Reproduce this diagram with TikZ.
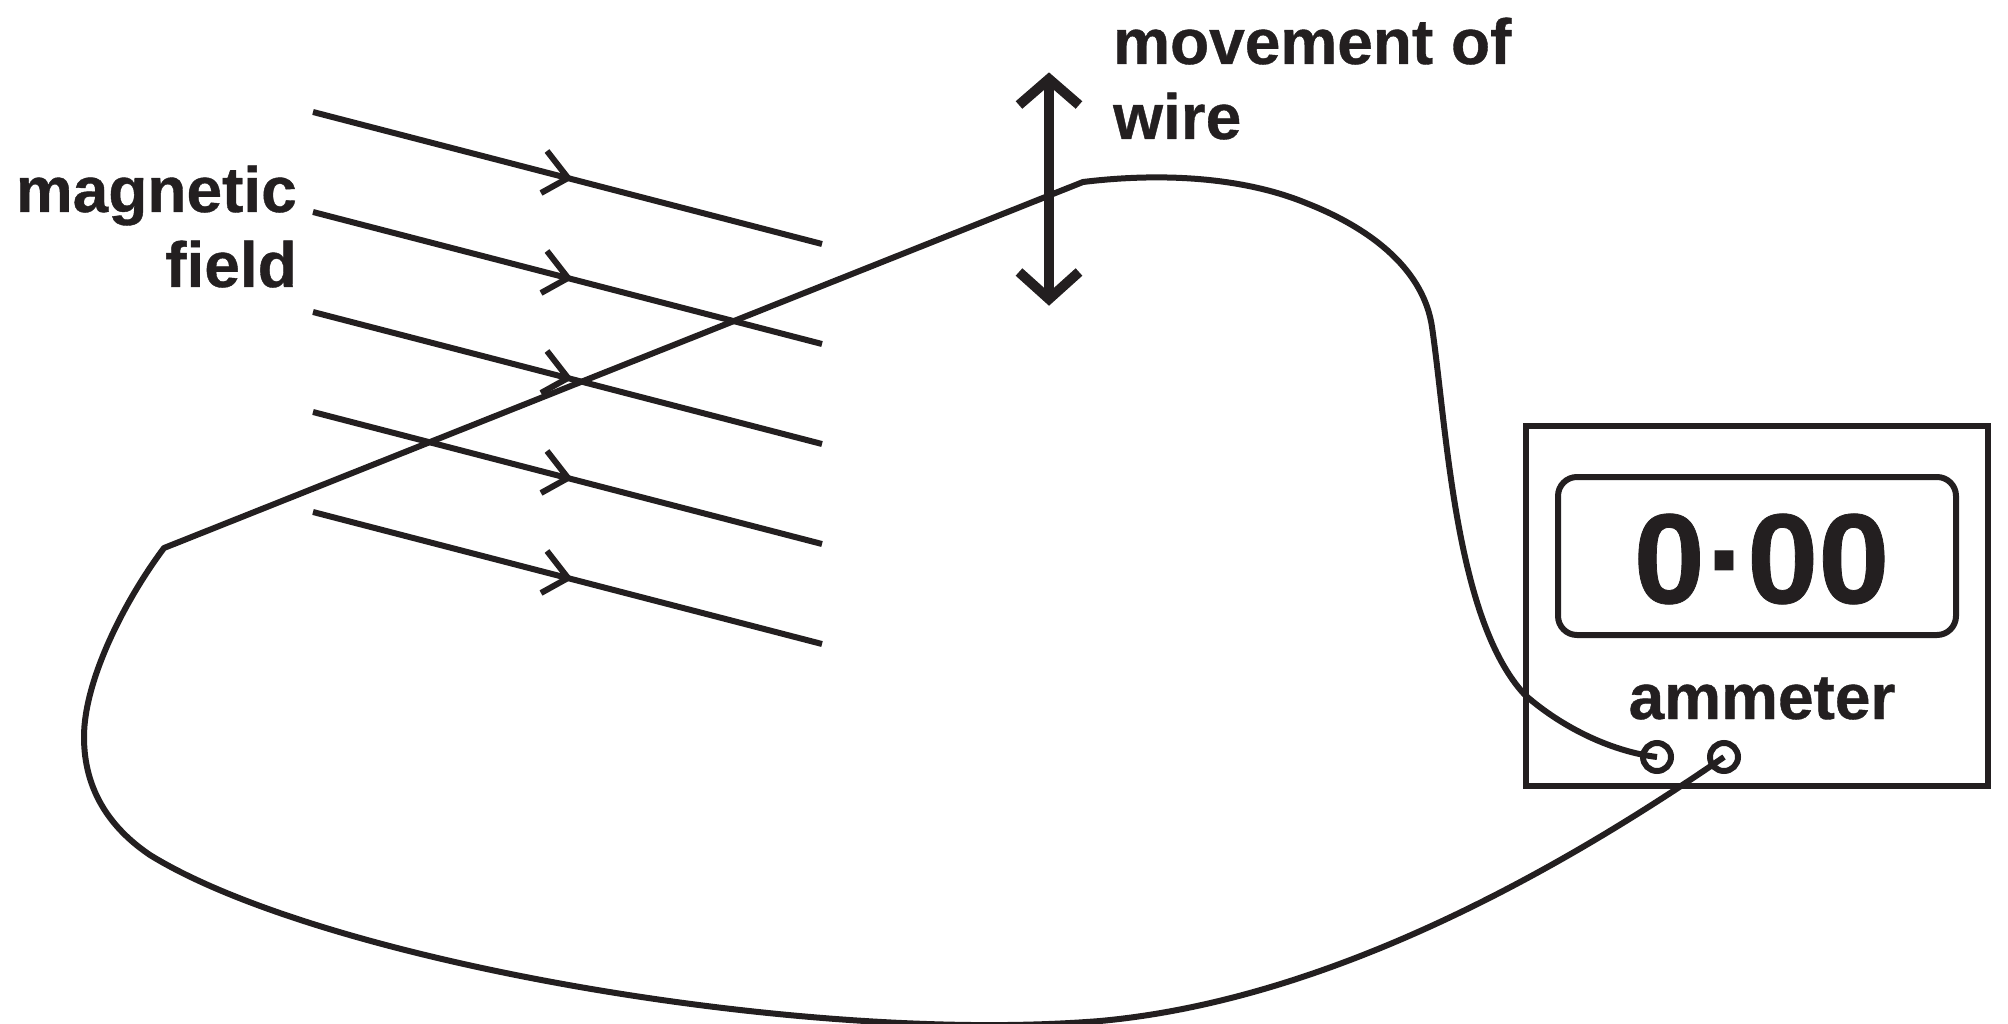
\documentclass[tikz,border=0pt]{standalone}
\usepackage{fontspec}
\setmainfont[BoldFeatures={FakeBold=0.6}]{Liberation Sans}
\definecolor{ink}{HTML}{231F20}
\tikzset{
  wire/.style={draw=ink,line width=6pt,line join=round},
  labeltext/.style={text=ink,inner sep=0pt,font=\bfseries\fontsize{64}{76}\selectfont},
  terminal/.style={circle,draw=ink,line width=6pt,minimum size=28pt,inner sep=0pt},
  panel/.style={draw=ink,line width=6pt}
}
\begin{document}
\begin{tikzpicture}[x=1pt,y=-1pt]
\useasboundingbox (0,0) rectangle (2008,1024);
% field lines
\foreach \i/\dy in {1/0,2/100,3/200,4/300,5/400}{
  \coordinate (fs\i) at (313,112+\dy);
  \coordinate (fe\i) at (822,244+\dy);
  \coordinate (ft\i) at (568,178+\dy);
  \coordinate (fu\i) at (547,151+\dy);
  \coordinate (fl\i) at (541,193+\dy);
  \draw[wire] (fs\i) -- (fe\i);
  \draw[wire,line cap=butt] (fu\i) -- (ft\i) -- (fl\i);
}
% meter
\node[panel,rectangle,minimum width=462pt,minimum height=360pt,inner sep=0pt] (meter) at (1757,605.5) {};
\node[panel,rectangle,rounded corners=19pt,minimum width=398pt,minimum height=158pt,inner sep=0pt] (display) at (1757,556) {};
\node[text=ink,inner sep=0pt,font=\bfseries\fontsize{128}{128}\selectfont] (reading) at (1761.5,559) {0\kern1.5pt·\kern-2pt00};
\node[labeltext,anchor=base] (ammeter) at (1762,719) {ammeter};
\node[terminal] (t1) at (1657,757) {};
\node[terminal] (t2) at (1724,757) {};
% wire
\coordinate (kl) at (164,548);
\coordinate (kr) at (1083,182);
\draw[wire] (t1.center) .. controls (1615,752) and (1565,730) .. (1525,695)
  .. controls (1455,620) and (1447,430) .. (1432,327)
  .. controls (1424,272) and (1375,230) .. (1306,203)
  .. controls (1245,178) and (1165,172) .. (kr)
  -- (kl)
  .. controls (125,600) and (84,680) .. (84,737)
  .. controls (84,790) and (110,828) .. (150,855)
  .. controls (320,960) and (800,1045) .. (1100,1021)
  .. controls (1330,1000) and (1560,870) .. (t2.center);
% movement arrow
\coordinate (au) at (1049,79);
\coordinate (ad) at (1049,299);
\coordinate (aul) at (1019,105);
\coordinate (aur) at (1079,105);
\coordinate (adl) at (1019,272);
\coordinate (adr) at (1079,272);
\draw[draw=ink,line width=10pt] (au) -- (ad);
\draw[draw=ink,line width=10pt,miter limit=10] (aul) -- (au) -- (aur);
\draw[draw=ink,line width=10pt,miter limit=10] (adl) -- (ad) -- (adr);
% labels
\node[labeltext,anchor=base west] (mov1) at (1113,64) {movement of};
\node[labeltext,anchor=base west] (mov2) at (1113,139) {wire};
\node[labeltext,anchor=base east] (mag1) at (297,212) {magnetic};
\node[labeltext,anchor=base east] (mag2) at (297,287) {field};
\end{tikzpicture}
\end{document}
